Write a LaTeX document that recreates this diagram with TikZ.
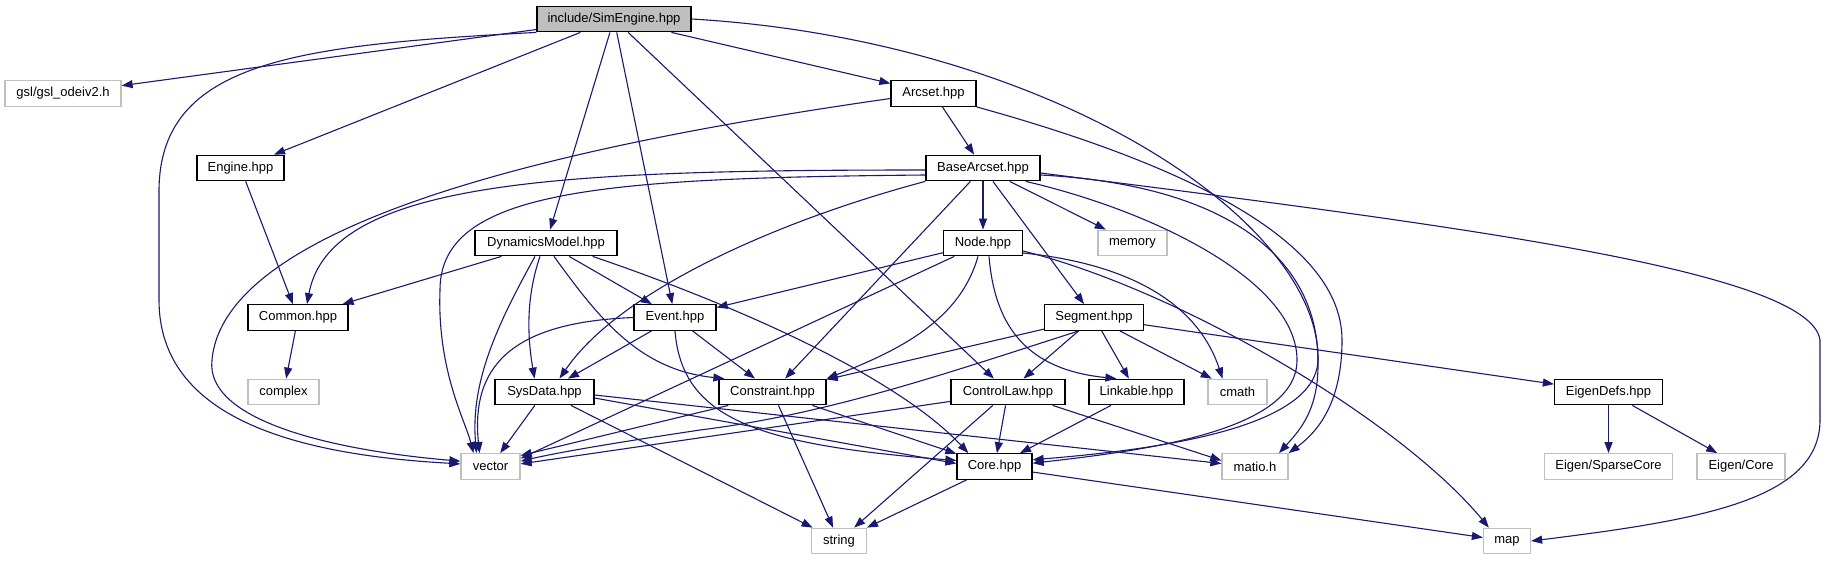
\documentclass[tikz,border=0pt]{standalone}
\usepackage{fontspec}
\setmainfont{Liberation Sans}
\usetikzlibrary{arrows.meta,calc}
\definecolor{edgec}{HTML}{191970}
\definecolor{grayb}{HTML}{BFBFBF}
\begin{document}
\begin{tikzpicture}[x=1pt,y=-1pt,
  box/.style={draw=black,line width=1.3pt,fill=white,minimum height=25.5pt,inner sep=0pt,font=\fontsize{13}{15}\selectfont},
  ext/.style={box,draw=grayb},
  e/.style={draw=edgec,line width=1.1pt,-{Triangle[length=11pt,width=8pt]}}]
\path[use as bounding box,fill=white] (0,0) rectangle (1828,560);
% nodes
\node[box,fill=grayb,minimum width=154pt] (sim) at (614,19) {include/SimEngine.hpp};
\node[ext,minimum width=116pt] (gsl) at (63,93.5) {gsl/gsl\_odeiv2.h};
\node[box,minimum width=85pt] (arcset) at (933.5,93.5) {Arcset.hpp};
\node[box,minimum width=87pt] (engine) at (240.5,168) {Engine.hpp};
\node[box,minimum width=114pt] (base) at (983,168) {BaseArcset.hpp};
\node[box,minimum width=142pt] (dyn) at (546,243) {DynamicsModel.hpp};
\node[box,minimum width=79pt] (nodeh) at (983,243) {Node.hpp};
\node[ext,minimum width=69pt] (memory) at (1132.5,243) {memory};
\node[box,minimum width=100pt] (common) at (298,317.5) {Common.hpp};
\node[box,minimum width=82pt] (event) at (675,317.5) {Event.hpp};
\node[box,minimum width=99pt] (segment) at (1094,317.5) {Segment.hpp};
\node[ext,minimum width=71pt] (complex) at (283.5,392) {complex};
\node[box,minimum width=99pt] (sysdata) at (544.5,392) {SysData.hpp};
\node[box,minimum width=107pt] (constraint) at (772.5,392) {Constraint.hpp};
\node[box,minimum width=114pt] (controllaw) at (1008,392) {ControlLaw.hpp};
\node[box,minimum width=95pt] (linkable) at (1136.5,392) {Linkable.hpp};
\node[ext,minimum width=59pt] (cmath) at (1237.5,392) {cmath};
\node[box,minimum width=108pt] (eigendefs) at (1608.5,392) {EigenDefs.hpp};
\node[ext,minimum width=59pt] (vector) at (490.5,466.5) {vector};
\node[box,minimum width=75pt] (core) at (994.5,466.5) {Core.hpp};
\node[ext,minimum width=66pt] (matio) at (1255,466.5) {matio.h};
\node[ext,minimum width=128pt] (sparse) at (1608.5,466.5) {Eigen/SparseCore};
\node[ext,minimum width=88pt] (eigencore) at (1741,466.5) {Eigen/Core};
\node[ext,minimum width=55pt] (string) at (839,541) {string};
\node[ext,minimum width=47pt] (map) at (1507,541) {map};
% SimEngine
\draw[e] (sim) -- (gsl);
\draw[e] (sim.south west) .. controls (300,45) and (160,60) .. (159,190) -- (159,300) .. controls (159,420) and (300,455) .. (vector.175);
\draw[e] (sim) -- (engine);
\draw[e] (sim) -- (dyn);
\draw[e] (sim) -- (event);
\draw[e] (sim) -- (controllaw);
\draw[e] (sim) -- (arcset);
\draw[e] (sim.east) .. controls (1050,40) and (1320,220) .. (1318,360) .. controls (1316,430) and (1150,450) .. (core.10);
% Arcset
\draw[e] (arcset) -- (base);
\draw[e] ($(arcset.west)+(0,5)$) .. controls (600,140) and (225,215) .. (212,360) .. controls (205,420) and (330,450) .. (vector.170);
\draw[e] (arcset.south east) .. controls (1150,155) and (1342,230) .. (1342,340) .. controls (1342,400) and (1320,430) .. (matio.north east);
% Engine
\draw[e] (engine) -- (common);
% BaseArcset
\draw[e] (base) -- (nodeh);
\draw[e] (base) -- (memory);
\draw[e] (base) -- (segment);
\draw[e] (base) -- (constraint);
\draw[e] ($(base.west)+(0,2)$) .. controls (560,170) and (330,180) .. ($(common.north)+(9,0)$);
\draw[e] ($(base.west)+(0,7)$) .. controls (600,178) and (440,190) .. (440,290) .. controls (437,370) and (465,420) .. ($(vector.north)+(-17,0)$);
\draw[e] (base.south west) .. controls (780,220) and (620,290) .. ($(sysdata.north)+(15,0)$);
\draw[e] ($(base.east)+(0,7)$) .. controls (1230,185) and (1320,260) .. (1318,365) .. controls (1318,410) and (1300,430) .. ($(matio.north)+(24,0)$);
\draw[e] ($(base.south east)+(-15,0)$) .. controls (1150,210) and (1297,280) .. (1297,360) .. controls (1297,430) and (1150,450) .. (core.5);
\draw[e] ($(base.east)+(0,5)$) .. controls (1450,225) and (1810,270) .. (1820,340) -- (1820,420) .. controls (1820,500) and (1700,520) .. (map.east);
% DynamicsModel
\draw[e] (dyn) -- (common);
\draw[e] ($(dyn.south)+(-11,0)$) .. controls (500,320) and (470,380) .. ($(vector.north)+(-14,0)$);
\draw[e] ($(dyn.south)+(-6,0)$) .. controls (525,300) and (528,340) .. ($(sysdata.north)+(-10,0)$);
\draw[e] (dyn) -- (event);
\draw[e] ($(dyn.south)+(8,0)$) .. controls (600,320) and (640,370) .. ($(constraint.north west)+(6,0)$);
\draw[e] ($(dyn.south east)+(-25,0)$) .. controls (750,310) and (900,380) .. ($(core.north west)+(12,0)$);
% Node
\draw[e] (nodeh) -- (event);
\draw[e] (nodeh) -- (vector.15);
\draw[e] ($(nodeh.south)+(-5,0)$) .. controls (960,320) and (900,350) .. (constraint.north east);
\draw[e] ($(nodeh.south)+(6,0)$) .. controls (995,330) and (1030,370) .. ($(linkable.north west)+(28,0)$);
\draw[e] ($(nodeh.east)+(0,10)$) .. controls (1140,265) and (1200,310) .. ($(cmath.north)+(-15,0)$);
\draw[e] ($(nodeh.east)+(0,8)$) .. controls (1180,290) and (1400,420) .. ($(map.north west)+(6,0)$);
% Common
\draw[e] (common) -- (complex);
% Event
\draw[e] (event.west) .. controls (520,322) and (470,360) .. ($(vector.north)+(-11,0)$);
\draw[e] (event) -- (sysdata);
\draw[e] (event) -- (constraint);
\draw[e] (event.south) .. controls (682,420) and (760,445) .. ($(core.west)+(0,-6)$);
% Segment
\draw[e] (segment) -- (constraint);
\draw[e] ($(segment.south west)+(35,0)$) .. controls (950,372) and (830,414) .. (700,430) .. controls (620,442) and (560,452) .. (vector.10);
\draw[e] (segment) -- (controllaw);
\draw[e] (segment) -- (linkable);
\draw[e] (segment) -- (cmath);
\draw[e] (segment) -- (eigendefs);
% SysData
\draw[e] (sysdata) -- (vector);
\draw[e] (sysdata) -- (string);
\draw[e] ($(sysdata.east)+(0,6)$) -- ($(core.west)+(0,-3)$);
\draw[e] ($(sysdata.east)+(0,3)$) -- ($(matio.west)+(0,-3)$);
% Constraint
\draw[e] ($(constraint.south west)+(10,0)$) -- (vector.20);
\draw[e] (constraint) -- (string);
\draw[e] (constraint) -- (core);
% ControlLaw
\draw[e] ($(controllaw.south west)+(0,-4)$) -- (vector.5);
\draw[e] (controllaw) -- (string);
\draw[e] (controllaw) -- (core);
\draw[e] ($(controllaw.south east)+(-13,0)$) -- ($(matio.west)+(0,-6)$);
% Linkable
\draw[e] (linkable) -- (core);
% EigenDefs
\draw[e] (eigendefs) -- (sparse);
\draw[e] (eigendefs) -- (eigencore);
% Core
\draw[e] (core) -- (string);
\draw[e] (core) -- (map);
\end{tikzpicture}
\end{document}
